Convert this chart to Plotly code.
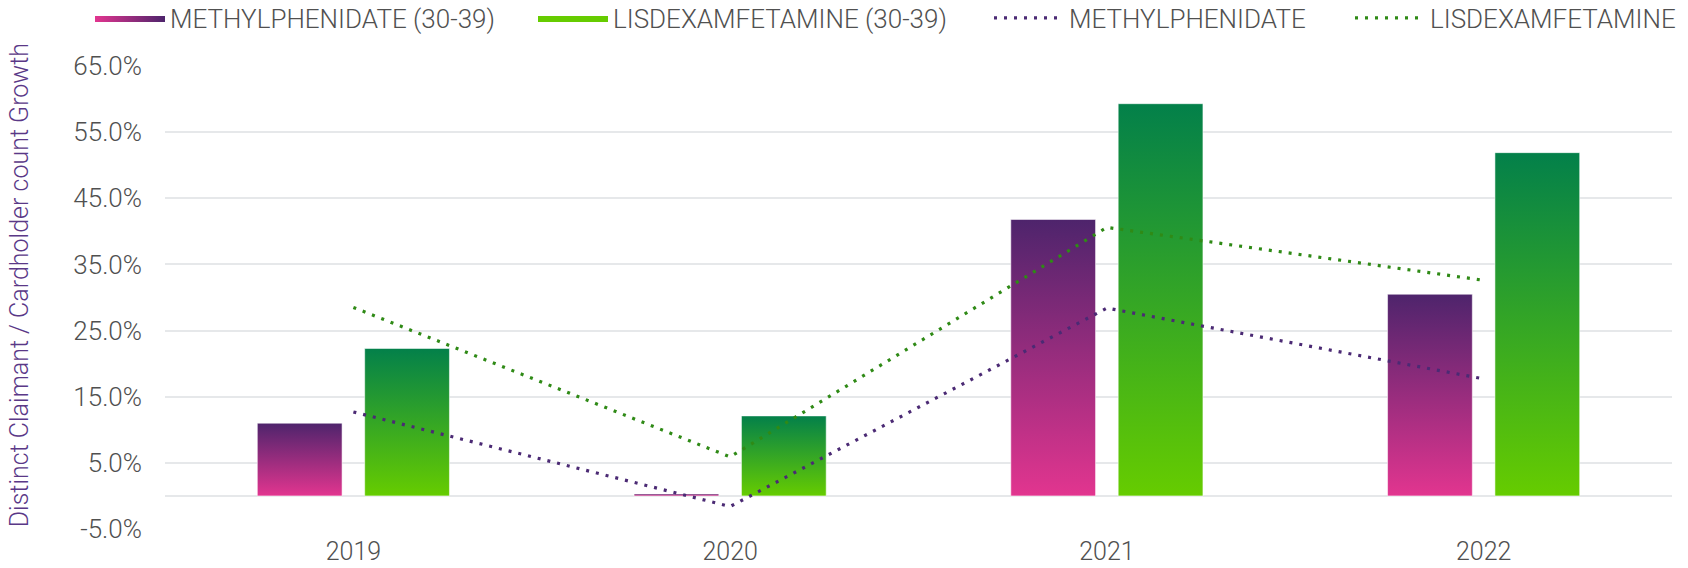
import plotly.graph_objects as go

years = ["2019", "2020", "2021", "2022"]
methyl_3039 = [11.0, 0.3, 41.8, 30.5]
lisdex_3039 = [22.3, 12.1, 59.3, 51.9]
methyl_all = [12.7, -1.6, 28.4, 17.7]
lisdex_all = [28.5, 5.9, 40.6, 32.6]

y_ticks = [-5, 5, 15, 25, 35, 45, 55, 65]
y_ticktext = [f"{t:.1f}%" for t in y_ticks]

PURPLE_TOP = "#4e246c"
PINK_BOTTOM = "#e2358f"
GREEN_TOP = "#03804a"
LIME_BOTTOM = "#66cc00"
LINE_PURPLE = "#4b2a74"
LINE_GREEN = "#2f8a16"
TEXT = "#505050"
FONT = "Roboto"
FS = 26

BAR_W = 0.225
OFFSET = 0.1425
W = 1688
H = 568

fig = go.Figure()


def add_bars(values, offset, bottom, top, group):
    # each bar is a filled rectangle with a vertical gradient from base to top
    for i, v in enumerate(values):
        x0, x1 = i + offset - BAR_W / 2, i + offset + BAR_W / 2
        fig.add_trace(go.Scatter(
            x=[x0, x1, x1, x0, x0],
            y=[0, 0, v / 100, v / 100, 0],
            mode="lines",
            fill="toself",
            fillgradient=dict(type="vertical",
                              colorscale=[[0, bottom], [1, top]]),
            line=dict(color="rgba(255,255,255,0.55)", width=1),
            legendgroup=group,
            showlegend=False,
            hoverinfo="skip",
        ))


add_bars(methyl_3039, -OFFSET, PINK_BOTTOM, PURPLE_TOP, "m")
add_bars(lisdex_3039, OFFSET, LIME_BOTTOM, GREEN_TOP, "l")

# legend entries for the bar series
fig.add_trace(go.Scatter(
    x=[None], y=[None], mode="lines", fill="toself",
    name="METHYLPHENIDATE (30-39)", legendgroup="m", legend="legend",
    fillgradient=dict(type="horizontal",
                      colorscale=[[0, PINK_BOTTOM], [1, PURPLE_TOP]]),
    line=dict(width=0, color=PURPLE_TOP),
))
fig.add_trace(go.Scatter(
    x=[None], y=[None], mode="lines", fill="toself",
    name="LISDEXAMFETAMINE (30-39)", legendgroup="l", legend="legend2",
    fillcolor=LIME_BOTTOM,
    line=dict(width=0, color=LIME_BOTTOM),
))

# overall growth lines
x_idx = list(range(len(years)))
fig.add_trace(go.Scatter(
    x=x_idx, y=[v / 100 for v in methyl_all], mode="lines",
    name="METHYLPHENIDATE", legend="legend3",
    line=dict(color=LINE_PURPLE, width=3.2, dash="3px,7px"),
))
fig.add_trace(go.Scatter(
    x=x_idx, y=[v / 100 for v in lisdex_all], mode="lines",
    name="LISDEXAMFETAMINE", legend="legend4",
    line=dict(color=LINE_GREEN, width=3.2, dash="3px,7px"),
))


def legend_at(px):
    return dict(
        orientation="h", x=px / W, xref="container", xanchor="left",
        y=1 - 18 / H, yref="container", yanchor="middle",
        itemwidth=70, font=dict(size=FS, color=TEXT),
        bgcolor="rgba(0,0,0,0)",
    )


fig.update_layout(
    width=W, height=H,
    margin=dict(l=165, r=16, t=66, b=39, autoexpand=False),
    paper_bgcolor="white", plot_bgcolor="white",
    font=dict(family=FONT, size=FS, color=TEXT, weight=300),
    showlegend=True,
    legend=legend_at(90),
    legend2=legend_at(533),
    legend3=legend_at(989),
    legend4=legend_at(1350),
    annotations=[dict(
        text="Distinct Claimant / Cardholder count Growth",
        xref="paper", yref="paper", x=-0.096, y=0.527,
        xanchor="center", yanchor="middle", textangle=-90,
        showarrow=False, font=dict(size=25, color="#5a3887"),
    )],
)
fig.update_xaxes(
    range=[-0.5, 3.5], tickvals=x_idx, ticktext=years,
    showgrid=False, zeroline=False, showline=False, ticks="",
    ticklabelstandoff=5,
    tickfont=dict(size=25, color=TEXT), fixedrange=True,
)
fig.update_yaxes(
    range=[-0.05, 0.65], tickvals=[t / 100 for t in y_ticks],
    ticktext=y_ticktext, showgrid=True, gridcolor="#e6e8ea", gridwidth=2,
    zeroline=True, zerolinecolor="#e6e8ea", zerolinewidth=2,
    showline=False, ticks="", ticklabelstandoff=22,
    tickfont=dict(size=FS, color=TEXT), fixedrange=True,
)

fig.write_html("out.html")
